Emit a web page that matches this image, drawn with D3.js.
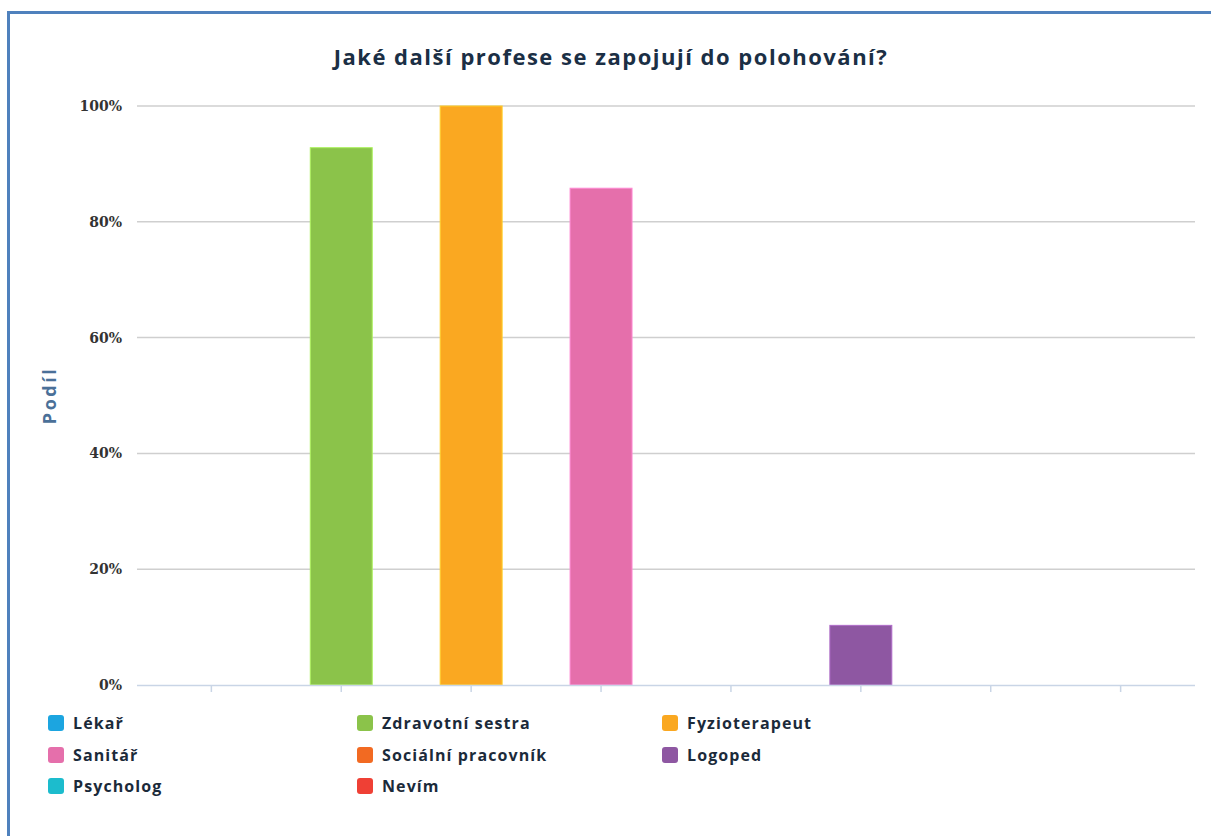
<!DOCTYPE html>
<html>
<head>
<meta charset="utf-8">
<script src="https://cdn.jsdelivr.net/npm/d3@7/dist/d3.min.js"></script>
<style>
  html, body { margin: 0; padding: 0; background: #fff; }
  svg { display: block; }
</style>
</head>
<body>
<svg id="chart" width="1211" height="836"></svg>
<script>
// Professions involved in patient positioning (share of respondents)
const categories = ["Lékař", "Zdravotní sestra", "Fyzioterapeut", "Sanitář",
                    "Sociální pracovník", "Logoped", "Psycholog", "Nevím"];
const shares = [0, 92.8, 100, 85.8, 0, 10.3, 0, 0];
const colors = ["#1ca5e0", "#8bc34a", "#faa821", "#e56fab",
                "#f26a22", "#8e57a2", "#1cbccd", "#ef4035"];
const yTicks = [0, 20, 40, 60, 80, 100];
const titleText = "Jaké další profese se zapojují do polohování?";
const yTitle = "Podíl";

const svg = d3.select("#chart");

// Outer frame
svg.append("rect")
  .attr("x", 8.5).attr("y", 12.5)
  .attr("width", 1240).attr("height", 870)
  .attr("fill", "none")
  .attr("stroke", "#4f81bd")
  .attr("stroke-width", 3);

const plot = { left: 137, right: 1195, top: 106, bottom: 685 };

const x = d3.scaleBand()
  .domain(categories)
  .range([plot.left, plot.right])
  .paddingInner(0.523)
  .paddingOuter(0.334);

const y = d3.scaleLinear()
  .domain([0, 100])
  .range([plot.bottom, plot.top]);

// Title
svg.append("text")
  .attr("x", 611).attr("y", 65)
  .attr("text-anchor", "middle")
  .attr("font-family", "'Open Sans', sans-serif")
  .attr("font-weight", "bold")
  .attr("font-size", 22)
  .attr("letter-spacing", 1.5)
  .attr("fill", "#1b2f45")
  .text(titleText);

// Horizontal gridlines
svg.append("g")
  .selectAll("line")
  .data(yTicks.filter(d => d > 0))
  .join("line")
  .attr("x1", plot.left).attr("x2", plot.right)
  .attr("y1", d => y(d)).attr("y2", d => y(d))
  .attr("stroke", "#cfcfcf")
  .attr("stroke-width", 1.5);

// Y axis labels
const yAxis = d3.axisLeft(y)
  .tickValues(yTicks)
  .tickFormat(d => d + "%")
  .tickSize(0)
  .tickPadding(15);

const yg = svg.append("g")
  .attr("transform", `translate(${plot.left},0)`)
  .call(yAxis);
yg.select(".domain").remove();
yg.selectAll("text")
  .attr("font-family", "'DejaVu Serif', serif")
  .attr("font-weight", "bold")
  .attr("font-size", 14)
  .attr("fill", "#333");

// Y axis title
svg.append("text")
  .attr("transform", `translate(56,${(plot.top + plot.bottom) / 2}) rotate(-90)`)
  .attr("text-anchor", "middle")
  .attr("font-family", "'Open Sans', sans-serif")
  .attr("font-weight", "bold")
  .attr("font-size", 18)
  .attr("letter-spacing", 2.5)
  .attr("fill", "#4a7098")
  .text(yTitle);

// Bars
svg.append("g")
  .selectAll("rect")
  .data(categories.map((c, i) => ({ c, v: shares[i], col: colors[i] })))
  .join("rect")
  .attr("x", d => x(d.c))
  .attr("y", d => y(d.v))
  .attr("width", x.bandwidth())
  .attr("height", d => y(0) - y(d.v))
  .attr("fill", d => d.col)
  .attr("stroke", d => d3.color(d.col).brighter(0.6))
  .attr("stroke-width", 1);

// X axis (category ticks, no labels)
const xAxis = d3.axisBottom(x).tickSize(7).tickFormat("");
const xg = svg.append("g")
  .attr("transform", `translate(0,${plot.bottom})`)
  .call(xAxis);
xg.select(".domain")
  .attr("d", `M${plot.left},0.5H${plot.right}`)
  .attr("stroke", "#c9d5e6")
  .attr("stroke-width", 1.5);
xg.selectAll(".tick line").attr("stroke", "#c9d5e6").attr("stroke-width", 1.5);

// Legend, three columns
const legendCols = [48, 357, 662];
const legendRows = [723, 755, 786];
const lg = svg.append("g")
  .selectAll("g")
  .data(categories.map((c, i) => ({ c, col: colors[i], i })))
  .join("g")
  .attr("transform", d => `translate(${legendCols[d.i % 3]},${legendRows[Math.floor(d.i / 3)]})`);
lg.append("rect")
  .attr("x", 0).attr("y", -8)
  .attr("width", 16).attr("height", 16)
  .attr("rx", 3)
  .attr("fill", d => d.col);
lg.append("text")
  .attr("x", 25).attr("y", 0)
  .attr("dy", "0.35em")
  .attr("font-family", "'Open Sans', sans-serif")
  .attr("font-weight", "bold")
  .attr("font-size", 16)
  .attr("letter-spacing", 1.1)
  .attr("fill", "#1b2a3a")
  .text(d => d.c);
</script>
</body>
</html>
